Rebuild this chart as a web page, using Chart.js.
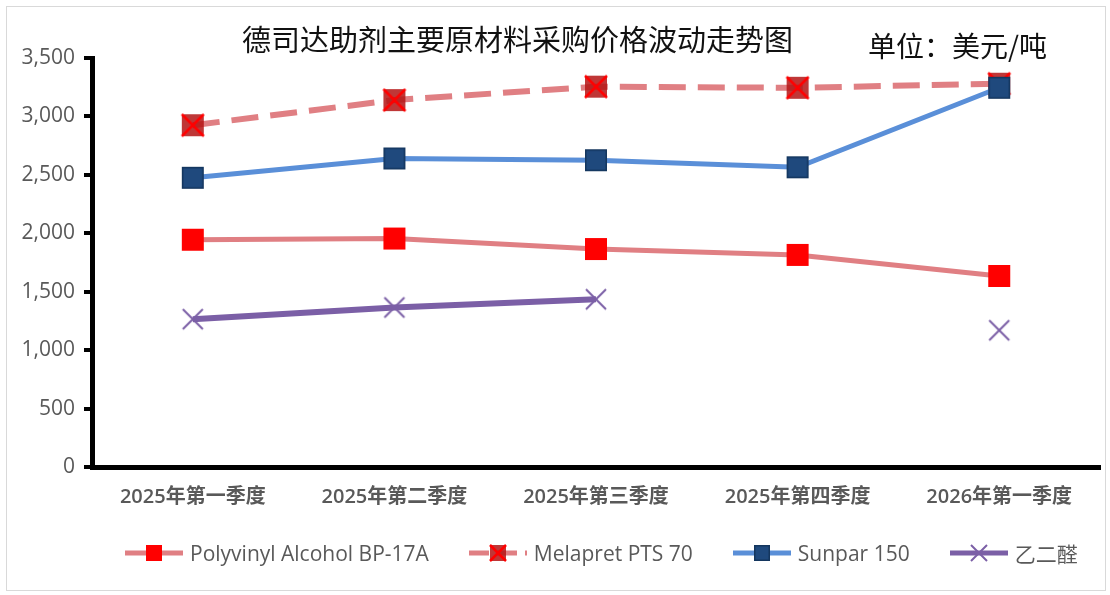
<!DOCTYPE html>
<html>
<head>
<meta charset="utf-8">
<script src="https://cdn.jsdelivr.net/npm/chart.js@4/dist/chart.umd.min.js"></script>
<style>
  html, body { margin: 0; padding: 0; background: #fff; }
  #wrap { position: relative; width: 1110px; height: 595px; }
  #frame { position: absolute; left: 6px; top: 6px; width: 1098px; height: 583px; border: 1px solid #d9d9d9; pointer-events: none; }
  .ttl { position: absolute; font-family: 'Noto Sans CJK SC', sans-serif; color: #111; white-space: nowrap; }
  #title { left: 242px; top: 17px; font-size: 29px; }
  #unit { left: 868px; top: 25px; font-size: 28px; }
  #legend { position: absolute; left: 125px; top: 539px; height: 28px; display: flex; align-items: center;
            font-family: 'Open Sans', 'Noto Sans CJK SC', sans-serif; font-size: 21px; color: #595959; white-space: nowrap; }
  #legend .item { display: flex; align-items: center; margin-right: 40px; }
  #legend canvas { margin-right: 7px; }
</style>
</head>
<body>
<div id="wrap">
  <canvas id="c" width="1110" height="595"></canvas>
  <div id="frame"></div>
  <div id="title" class="ttl">德司达助剂主要原材料采购价格波动走势图</div>
  <div id="unit" class="ttl">单位：美元/吨</div>
  <div id="legend"></div>
</div>
<script>
/* ===== data ===== */
const quarters = ['2025年第一季度', '2025年第二季度', '2025年第三季度', '2025年第四季度', '2026年第一季度'];
const pvaPrices = [1945, 1955, 1865, 1815, 1635];
const melapretPrices = [2925, 3140, 3255, 3245, 3280];
const sunparPrices = [2475, 2640, 2625, 2565, 3245];
const glyoxalPrices = [1265, 1365, 1435, null, 1170];
const yTicks = [0, 500, 1000, 1500, 2000, 2500, 3000, 3500];

const colors = {
    pvaLine: '#e07f83', pvaMark: '#ff0000',
    melLine: '#e07f83', melFill: 'rgba(180,20,20,0.85)', melCross: '#ff0000',
    sunLine: '#5a8fd8', sunFill: '#1f497d', sunEdge: '#14365e',
    glyLine: '#7b5fa6'
};

function makeCanvas(w, h) { const c = document.createElement('canvas'); c.width = w; c.height = h; return c; }

// marker drawers: draw centred at (cx, cy)
function drawSquare(ctx, cx, cy, s, fill, edge) {
    ctx.fillStyle = fill; ctx.fillRect(cx - s / 2, cy - s / 2, s, s);
    if (edge) { ctx.strokeStyle = edge; ctx.lineWidth = 1.5; ctx.strokeRect(cx - s / 2 + 0.75, cy - s / 2 + 0.75, s - 1.5, s - 1.5); }
}
function drawX(ctx, cx, cy, s, color, lw) {
    ctx.strokeStyle = color; ctx.lineWidth = lw; ctx.beginPath();
    ctx.moveTo(cx - s / 2, cy - s / 2); ctx.lineTo(cx + s / 2, cy + s / 2);
    ctx.moveTo(cx + s / 2, cy - s / 2); ctx.lineTo(cx - s / 2, cy + s / 2); ctx.stroke();
}
const markers = {
    pva: (ctx, cx, cy, s) => drawSquare(ctx, cx, cy, s, colors.pvaMark),
    mel: (ctx, cx, cy, s) => { drawSquare(ctx, cx, cy, s, colors.melFill); drawX(ctx, cx, cy, s, colors.melCross, 2.5); },
    sun: (ctx, cx, cy, s) => drawSquare(ctx, cx, cy, s, colors.sunFill, colors.sunEdge),
    gly: (ctx, cx, cy, s) => drawX(ctx, cx, cy, s, colors.glyLine, 2)
};

function pointImg(kind, s) {
    const c = makeCanvas(s + 4, s + 4);
    markers[kind](c.getContext('2d'), (s + 4) / 2, (s + 4) / 2, s);
    return c;
}
function legendImg(kind, lineColor, dash, s) {
    const c = makeCanvas(58, 24), ctx = c.getContext('2d');
    ctx.strokeStyle = lineColor; ctx.lineWidth = 5; ctx.setLineDash(dash || []);
    ctx.beginPath(); ctx.moveTo(0, 12); ctx.lineTo(58, 12); ctx.stroke(); ctx.setLineDash([]);
    markers[kind](ctx, 29, 12, s);
    return c;
}

const datasets = [
    { label: 'Polyvinyl Alcohol BP-17A', data: pvaPrices, borderColor: colors.pvaLine, borderWidth: 5, pointStyle: pointImg('pva', 22), order: 3 },
    { label: 'Melapret PTS 70', data: melapretPrices, borderColor: colors.melLine, borderWidth: 6, borderDash: [27, 12], pointStyle: pointImg('mel', 22), order: 2 },
    { label: 'Sunpar 150', data: sunparPrices, borderColor: colors.sunLine, borderWidth: 5, pointStyle: pointImg('sun', 22), order: 1 },
    { label: '乙二醛', data: glyoxalPrices, borderColor: colors.glyLine, borderWidth: 6, pointStyle: pointImg('gly', 20), spanGaps: false, order: 0 }
];
const legendIcons = [
    legendImg('pva', colors.pvaLine, null, 16),
    legendImg('mel', colors.melLine, [20, 8], 16),
    legendImg('sun', colors.sunLine, null, 16),
    legendImg('gly', colors.glyLine, null, 16)
];

// html legend (line + marker icons)
const legendEl = document.getElementById('legend');
datasets.forEach((ds, i) => {
    const item = document.createElement('div');
    item.className = 'item';
    item.appendChild(legendIcons[i]);
    const span = document.createElement('span');
    span.textContent = ds.label;
    item.appendChild(span);
    legendEl.appendChild(item);
});

new Chart(document.getElementById('c'), {
    type: 'line',
    data: { labels: quarters, datasets },
    options: {
        responsive: false, animation: false, devicePixelRatio: 1,
        layout: { autoPadding: false, padding: { top: 58, right: 10, left: 0, bottom: 77 } },
        elements: { line: { tension: 0, fill: false }, point: { radius: 11, hoverRadius: 11 } },
        plugins: { tooltip: { enabled: false }, legend: { display: false } },
        scales: {
            x: {
                offset: true,
                grid: { display: false, drawTicks: false },
                border: { display: true, color: '#000', width: 5 },
                ticks: { color: '#595959', padding: 18, maxRotation: 0, font: { family: "'Open Sans', 'Noto Sans CJK SC', sans-serif", size: 20, weight: '600' } },
                afterFit: s => { s.height = 51; s.paddingLeft = 0; s.paddingRight = 0; }
            },
            y: {
                min: 0, max: 3500,
                afterBuildTicks: s => { s.ticks = yTicks.map(v => ({ value: v })); },
                grid: { display: true, drawOnChartArea: false, drawTicks: true, tickLength: 8, color: '#000', lineWidth: 4 },
                border: { display: true, color: '#000', width: 5 },
                ticks: { color: '#595959', padding: 9, font: { family: "'Open Sans', sans-serif", size: 21 },
                    callback: v => v.toLocaleString('en-US') },
                afterFit: s => { s.width = 92; }
            }
        }
    }
});
</script>
</body>
</html>
